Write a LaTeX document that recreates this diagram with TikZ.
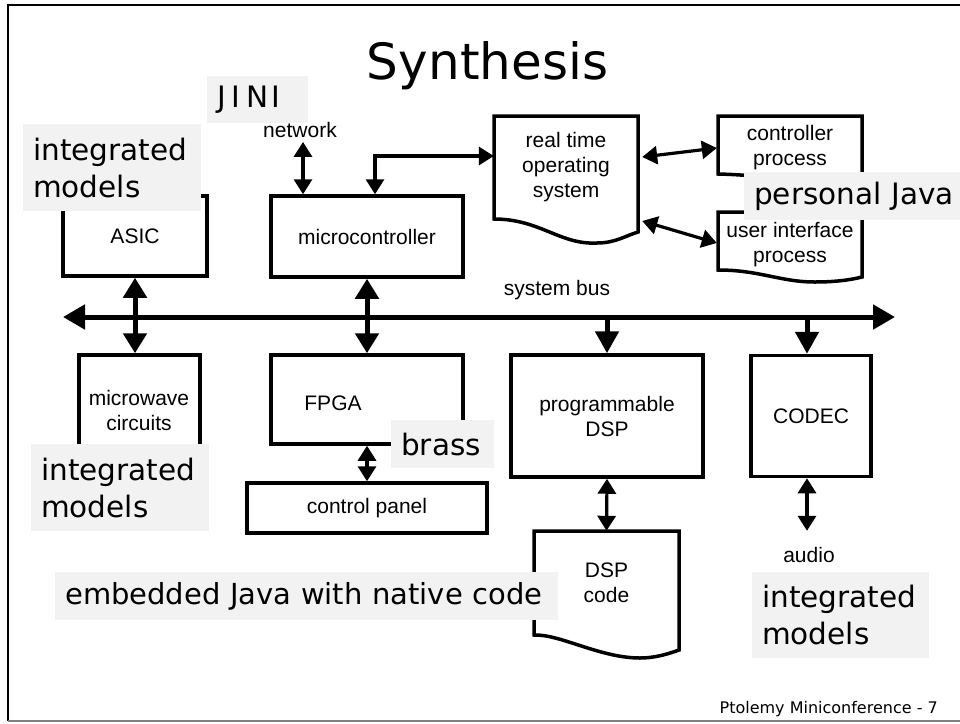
\documentclass[tikz,border=0pt]{standalone}
\usepackage{fontspec}
\setmainfont{Liberation Sans}
\newfontfamily\labfont{DejaVu Sans}
\usetikzlibrary{arrows.meta}
\definecolor{labgray}{HTML}{F2F2F2}
\newcommand\mybxf{\fontsize{21}{25}\selectfont}
\newcommand\mylbf{\labfont\fontsize{29.5}{37}\selectfont}
\begin{document}
\begin{tikzpicture}[x=1pt,y=-1pt,
  box/.style={draw, line width=3.5pt, inner sep=0pt, align=center, font=\mybxf},
  ghost/.style={inner sep=0pt, align=center, font=\mybxf},
  txt/.style={inner sep=0pt, align=center, font=\mybxf},
  outline/.style={line width=3.5pt, line join=miter},
  lab/.style={fill=labgray, inner xsep=10pt, inner ysep=0pt, align=left, font=\mylbf, anchor=north west},
  busarrow/.style={line width=5pt, >={Triangle[length=22pt,width=24pt]}, <->},
  vbus/.style={line width=5pt, >={Triangle[length=20pt,width=23pt]}, <->},
  vbusone/.style={line width=5pt, >={Triangle[length=22pt,width=23pt]}, ->},
  link/.style={line width=3.2pt, >={Triangle[length=15pt,width=18pt]}, <->}
]
\fill[white] (0,0) rectangle (960,723);
\useasboundingbox (0,0) rectangle (960,723);
% frame
\draw[line width=2.5pt] (8,721) -- (8,5) -- (965,5);
\draw[line width=1.2pt, gray] (8,721) -- (965,721);

% title and footer
\node[font=\labfont\fontsize{50}{60}\selectfont, anchor=base, inner sep=0pt] (title) at (487.5,79) {Synthesis};
\node[font=\labfont\fontsize{16}{19}\selectfont, anchor=base east, inner sep=0pt] (foot) at (938,713) {Ptolemy Miniconference - 7};

% rectangular blocks
\node[box, minimum width=144pt, minimum height=80pt] (asic) at (135,236) {ASIC};
\node[box, minimum width=192pt, minimum height=81pt] (mc) at (367,236.5) {microcontroller};
\node[box, minimum width=121pt, minimum height=122pt] (mw) at (139.5,416) {};
\node[txt] (mwt) at (139,410) {microwave\\circuits};
\node[box, minimum width=192pt, minimum height=89pt] (fpga) at (367,399.5) {};
\node[txt] (fpgat) at (333,403) {FPGA};
\node[box, minimum width=240pt, minimum height=50pt] (cp) at (367,508) {control panel};
\node[box, minimum width=192pt, minimum height=122pt] (dsp) at (607,416) {programmable\\DSP};
\node[box, minimum width=120pt, minimum height=121pt] (codec) at (811,416) {CODEC};

% document shapes
\draw[outline] (494,116) -- (638,116) -- (638,232) .. controls (625,236) and (615,243) .. (597,243) .. controls (560,245) and (540,219) .. (494,219) -- cycle;
\node[ghost, minimum width=144pt, minimum height=103pt] (rtos) at (566,167.5) {real time\\operating\\system};
\draw[outline] (718,116) -- (862,116) -- (862,190) .. controls (840,195) and (800,176) .. (718,174) -- cycle;
\node[ghost, minimum width=144pt, minimum height=64pt] (ctrl) at (790,148) {controller\\process};
\draw[outline] (718,212) -- (862,212) -- (862,277) .. controls (850,280) and (835,282) .. (815,282) .. controls (780,282) and (760,270) .. (718,270) -- cycle;
\node[ghost, minimum width=144pt, minimum height=66pt] (uip) at (790,245) {user interface\\process};
\draw[outline] (534,531) -- (679,531) -- (679,650) .. controls (668,654) and (655,658) .. (640,658) .. controls (600,658) and (560,634) .. (534,635) -- cycle;
\node[ghost, minimum width=145pt, minimum height=104pt] (dspc) at (606.5,583) {DSP\\code};

% free texts
\node[txt] (net) at (300,130) {network};
\node[txt] (sbus) at (557,290) {system bus};
\node[txt] (aud) at (809,555) {audio};

% bus and connectors
\coordinate (busL) at (63,317);
\coordinate (busR) at (895,317);
\draw[busarrow] (busL) -- (busR);
\draw[vbus] (asic.south) -- (asic.south |- mw.north);
\draw[vbus] (mc.south) -- (fpga.north);
\draw[vbusone] (dsp.north |- busL) -- (dsp.north);
\draw[vbusone] ([xshift=-4pt]codec.north |- busL) -- ([xshift=-4pt]codec.north);
\draw[link] ([xshift=3pt,yshift=-4pt]net.south) -- ([xshift=3pt]net.south |- mc.north);
\draw[link] ([xshift=8pt]mc.north) |- ([yshift=11.5pt]rtos.west);
\draw[link] ([xshift=4pt,yshift=10.5pt]rtos.east) -- ([xshift=-1pt]ctrl.west);
\draw[link] ([xshift=4pt,yshift=-53.5pt]rtos.east) -- ([xshift=-1pt,yshift=2pt]uip.west);
\draw[link] (fpga.south) -- (cp.north);
\draw[link] (dsp.south) -- (dspc.north);
\draw[link] ([xshift=-4pt]codec.south) -- ([xshift=-4pt]codec.south |- dspc.north);

% grey annotation labels
\node[lab, text width=81pt, minimum height=47pt] (jini) at (207,76) {J\kern6pt I\kern6pt N\kern3pt I};
\node[lab, text width=158pt, minimum height=87pt] (im1) at (23,124) {integrated\\models};
\node[lab, text width=200pt, minimum height=48pt] (pj) at (744,172) {personal Java};
\node[lab, text width=158pt, minimum height=87pt] (im2) at (31,444) {integrated\\models};
\node[lab, text width=83pt, minimum height=48pt] (brass) at (391,420) {brass};
\node[lab, text width=483pt, minimum height=48pt, font=\labfont\fontsize{29}{37}\selectfont] (emb) at (55,572) {embedded Java with native code};
\node[lab, text width=157pt, minimum height=86pt] (im3) at (752,572) {integrated\\models};
\end{tikzpicture}
\end{document}
